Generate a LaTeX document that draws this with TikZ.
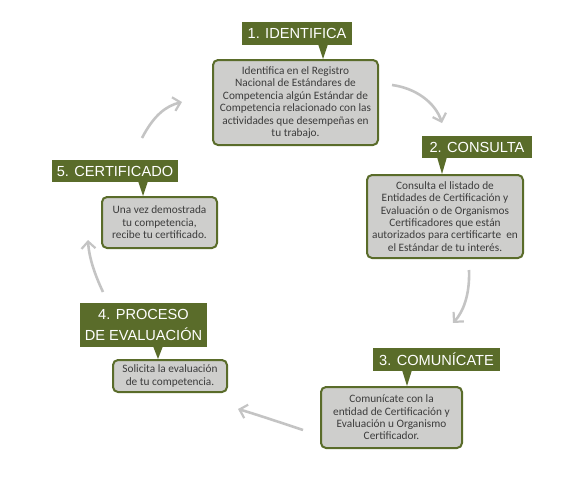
\documentclass[tikz,border=0pt]{standalone}
\usepackage{fontspec}
\setmainfont{Carlito}
\newfontfamily\titlefont{Liberation Sans}
\usepackage{tikz}
\usetikzlibrary{arrows.meta}

\definecolor{olive}{RGB}{90,108,42}
\definecolor{boxgray}{RGB}{206,206,204}
\definecolor{txtgray}{RGB}{60,60,60}
\definecolor{arrowgray}{RGB}{196,196,196}

\tikzset{
  stepbox/.style={shape=rectangle, rounded corners=5pt, draw=olive, line width=2pt,
    fill=boxgray, text=txtgray, align=center, inner sep=2pt,
    font=\fontsize{11.3}{12.4}\selectfont},
  steptitle/.style={shape=rectangle, fill=olive, text=white, align=center, inner sep=0pt,
    font=\titlefont\fontsize{14.6}{21}\selectfont},
  cyclearrow/.style={draw=arrowgray, line width=2.6pt,
    -{Straight Barb[length=7pt,width=14pt,line width=2.2pt]}}
}

\begin{document}
\begin{tikzpicture}[x=1pt,y=-1pt]
\useasboundingbox (0,0) rectangle (580,483);

% titles
\node[steptitle, minimum width=110pt, minimum height=23pt](t1) at (297,33.5) {1. IDENTIFICA};
\node[steptitle, minimum width=110pt, minimum height=22pt](t2) at (477,147) {2. CONSULTA};
\node[steptitle, minimum width=127pt, minimum height=23pt](t3) at (436.5,359.5) {3. COMUN\'ICATE};
\node[steptitle, minimum width=127pt, minimum height=44pt](t4) at (143.5,325) {4. PROCESO\\DE EVALUACI\'ON};
\node[steptitle, minimum width=126pt, minimum height=22pt](t5) at (115,171) {5. CERTIFICADO};

% pointers
\fill[olive] (318,44) -- (328,44) -- (323,59) -- cycle;
\fill[olive] (437,157) -- (447,157) -- (442,174) -- cycle;
\fill[olive] (402,370) -- (412,370) -- (407,386) -- cycle;
\fill[olive] (153,346) -- (163,346) -- (158,359) -- cycle;
\fill[olive] (138,181) -- (148,181) -- (143,196) -- cycle;

% boxes
\node[stepbox, minimum width=165pt, minimum height=85pt](b1) at (295.5,102.5)
  {Identifica en el Registro\\Nacional de Est\'andares de\\Competencia alg\'un Est\'andar de\\Competencia relacionado con las\\actividades que desempe\~nas en\\tu trabajo.};
\node[stepbox, minimum width=156pt, minimum height=83pt](b2) at (445,216.5)
  {Consulta el listado de\\Entidades de Certificaci\'on y\\Evaluaci\'on o de Organismos\\Certificadores que est\'an\\autorizados para certificarte\ \ en\\el Est\'andar de tu inter\'es.};
\node[stepbox, minimum width=141pt, minimum height=61pt](b3) at (391.5,417.5)
  {Comun\'icate con la\\entidad de Certificaci\'on y\\Evaluaci\'on u Organismo\\Certificador.};
\node[stepbox, minimum width=114pt, minimum height=32pt](b4) at (170,376)
  {Solicita la evaluaci\'on\\de tu competencia.};
\node[stepbox, minimum width=115pt, minimum height=51pt](b5) at (159.5,222.5)
  {Una vez demostrada\\tu competencia,\\recibe tu certificado.};

% arrow ends
\coordinate (a1s) at (392,85);   \coordinate (a1e) at (442,123);
\coordinate (a2s) at (469,270);  \coordinate (a2e) at (453,323);
\coordinate (a3s) at (303,430);  \coordinate (a3e) at (238,409);
\coordinate (a4s) at (103,292);  \coordinate (a4e) at (88,240);
\coordinate (a5s) at (142,138);  \coordinate (a5e) at (182,102);

\draw[cyclearrow] (a1s) .. controls (415,88) and (435,102) .. (a1e);
\draw[cyclearrow] (a2s) .. controls (470,295) and (463,312) .. (a2e);
\draw[cyclearrow] (a3s) .. controls (282,423) and (255,414) .. (a3e);
\draw[cyclearrow] (a4s) .. controls (95,275) and (89,258) .. (a4e);
\draw[cyclearrow] (a5s) .. controls (154,115) and (166,106) .. (a5e);
\end{tikzpicture}
\end{document}
